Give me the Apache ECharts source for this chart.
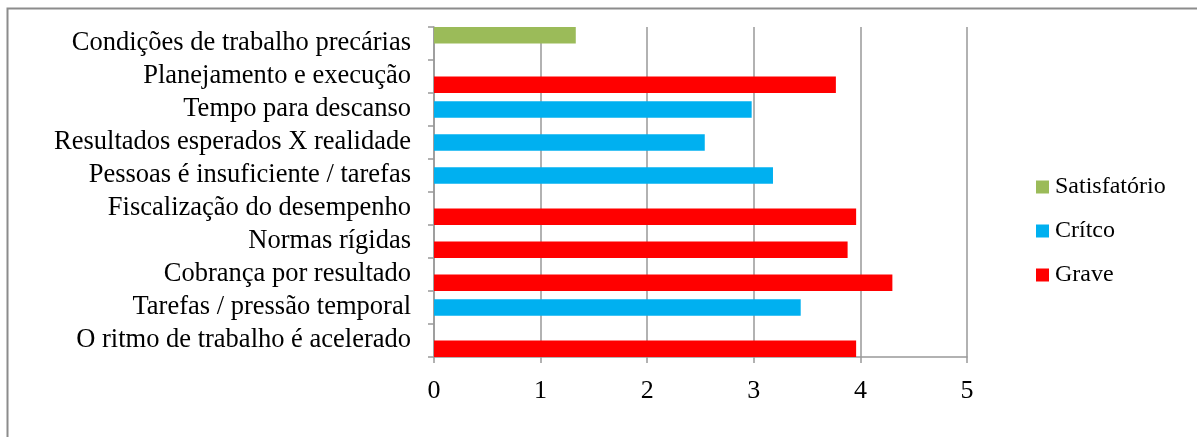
<!DOCTYPE html>
<html>
<head>
<meta charset="utf-8">
<script src="https://cdn.jsdelivr.net/npm/echarts@6/dist/echarts.min.js"></script>
<style>
html,body{margin:0;padding:0;background:#fff;}
#chart{width:1197px;height:437px;}
</style>
</head>
<body>
<div id="chart"></div>
<script>
const categories = [
  "Condições de trabalho precárias",
  "Planejamento e execução",
  "Tempo para descanso",
  "Resultados esperados X realidade",
  "Pessoas é insuficiente / tarefas",
  "Fiscalização do desempenho",
  "Normas rígidas",
  "Cobrança por resultado",
  "Tarefas / pressão temporal",
  "O ritmo de trabalho é acelerado"
];
const satisfatorio = [1.33, null, null, null, null, null, null, null, null, null];
const critico      = [null, null, 2.98, 2.54, 3.18, null, null, null, 3.44, null];
const grave        = [null, 3.77, null, null, null, 3.96, 3.88, 4.30, null, 3.96];
const xTicks = [0, 1, 2, 3, 4, 5];
const seriesNames = ["Satisfatório", "Crítco", "Grave"];
const colors = ["#9BBB59", "#00B0F0", "#FF0000"];

const chart = echarts.init(document.getElementById('chart'));
const font = "'Liberation Serif', 'Times New Roman', serif";
const dataSets = [satisfatorio, critico, grave];
chart.setOption({
  animation: false,
  backgroundColor: '#fff',
  graphic: [{
    type: 'rect',
    shape: { x: 7.5, y: 8.5, width: 1300, height: 500 },
    style: { fill: 'none', stroke: '#8c8c8c', lineWidth: 2 },
    silent: true, z: -1
  }],
  grid: { left: 434, right: 230, top: 27, bottom: 80, containLabel: false },
  legend: {
    orient: 'vertical',
    left: 1036,
    top: 175,
    padding: 0,
    itemWidth: 13,
    itemHeight: 13,
    itemGap: 20,
    icon: 'rect',
    textStyle: { fontFamily: font, fontSize: 24, color: '#000', padding: [0, 0, 0, 1] },
    data: seriesNames
  },
  xAxis: {
    type: 'value',
    min: 0, max: 5, interval: 1,
    axisLine: { show: true, lineStyle: { color: '#999', width: 1.5 } },
    axisTick: { show: true, length: 6, lineStyle: { color: '#999', width: 1.5 } },
    splitLine: { show: true, lineStyle: { color: '#999', width: 1.5 } },
    axisLabel: {
      fontFamily: font, fontSize: 26, color: '#000', margin: 21,
      formatter: v => xTicks.includes(v) ? String(v) : ''
    }
  },
  yAxis: {
    type: 'category',
    inverse: true,
    data: categories,
    axisLine: { show: true, lineStyle: { color: '#999', width: 1.5 } },
    axisTick: { show: true, interval: 0, length: 6, lineStyle: { color: '#999', width: 1.5 } },
    axisLabel: { interval: 0, fontFamily: font, fontSize: 26.5, color: '#000', margin: 23 }
  },
  series: dataSets.map((d, i) => ({
    name: seriesNames[i],
    type: 'bar',
    data: d,
    barGap: '-50%',
    barCategoryGap: '0%',
    itemStyle: { color: colors[i] }
  }))
});
</script>
</body>
</html>
